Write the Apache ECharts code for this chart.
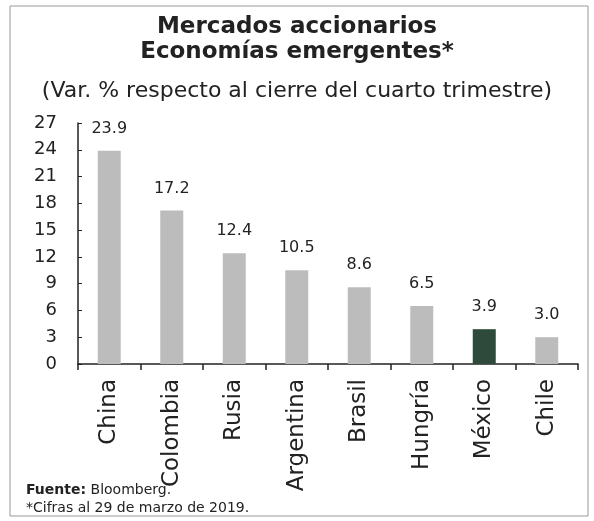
<!DOCTYPE html>
<html>
<head>
<meta charset="utf-8">
<script src="https://cdn.jsdelivr.net/npm/echarts@6/dist/echarts.min.js"></script>
<style>
  html, body { margin: 0; padding: 0; background: #fff; }
  #chart { width: 594px; height: 521px; }
</style>
</head>
<body>
<div id="chart"></div>
<script>
const paises = ['China', 'Colombia', 'Rusia', 'Argentina', 'Brasil', 'Hungría', 'México', 'Chile'];
const variacion = [23.9, 17.2, 12.4, 10.5, 8.6, 6.5, 3.9, 3.0];
const resaltado = 'México';

const gris = '#bcbcbc';
const verde = '#2d4a3a';
const fuente = '"DejaVu Sans", sans-serif';

const chart = echarts.init(document.getElementById('chart'));

const option = {
    backgroundColor: '#fff',
    animation: false,
    textStyle: { fontFamily: fuente },
    title: [
        {
            text: 'Mercados accionarios\nEconomías emergentes*',
            left: 'center',
            top: 10,
            textStyle: { fontSize: 23, fontWeight: 'bold', color: '#222', lineHeight: 25, fontFamily: fuente }
        },
        {
            text: '(Var. % respecto al cierre del cuarto trimestre)',
            left: 'center',
            top: 75,
            textStyle: { fontSize: 22, fontWeight: 'normal', color: '#222', fontFamily: fuente }
        }
    ],
    graphic: [
        {
            type: 'rect',
            shape: { x: 10, y: 6, width: 578, height: 510 },
            style: { fill: 'none', stroke: '#999', lineWidth: 1 },
            silent: true
        },
        {
            type: 'text',
            left: 26,
            top: 481,
            style: {
                text: '{b|Fuente:} Bloomberg.\n*Cifras al 29 de marzo de 2019.',
                fontSize: 14,
                lineHeight: 18,
                fill: '#222',
                fontFamily: fuente,
                rich: { b: { fontWeight: 'bold', fontSize: 14, fontFamily: fuente, fill: '#222' } }
            }
        }
    ],
    grid: { left: 78, right: 16, top: 123, bottom: 157, containLabel: false },
    xAxis: {
        type: 'category',
        data: paises,
        axisLine: { lineStyle: { color: '#222', width: 1.5 } },
        axisTick: { show: true, length: 6, lineStyle: { color: '#222', width: 1.5 } },
        axisLabel: { rotate: 90, fontSize: 23, color: '#222', margin: 15 }
    },
    yAxis: {
        type: 'value',
        min: 0,
        max: 27,
        interval: 3,
        splitLine: { show: false },
        axisLine: { show: true, lineStyle: { color: '#222', width: 1.5 } },
        axisTick: { show: true, inside: true, length: 4, lineStyle: { color: '#222' } },
        axisLabel: { fontSize: 18, color: '#222', margin: 21 }
    },
    series: [
        {
            type: 'bar',
            barWidth: 23,
            data: variacion.map((v, i) => ({
                value: v,
                itemStyle: { color: paises[i] === resaltado ? verde : gris }
            })),
            label: {
                show: true,
                position: 'top',
                distance: 14,
                fontSize: 16,
                color: '#222',
                formatter: p => p.value.toFixed(1)
            }
        }
    ]
};

chart.setOption(option);
</script>
</body>
</html>
